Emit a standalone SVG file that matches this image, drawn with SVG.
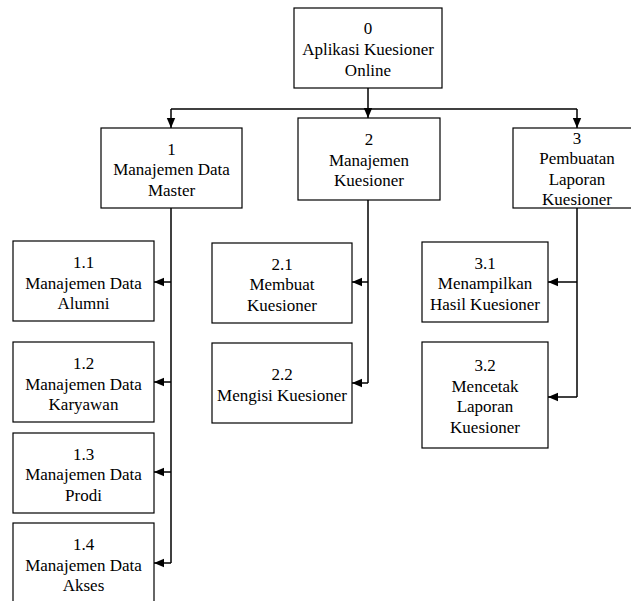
<svg xmlns="http://www.w3.org/2000/svg" width="631" height="601" viewBox="0 0 631 601">
<style>
rect{fill:#fff;stroke:#000;stroke-width:1.2}
text{font-size:17px;fill:#000;text-anchor:middle}
.c{fill:none;stroke:#000;stroke-width:1.5}
</style>
<defs>
<marker id="ah" markerUnits="userSpaceOnUse" markerWidth="10" markerHeight="10" viewBox="0 0 10 10" refX="10" refY="5" orient="auto"><path d="M0,0.8 L10,5 L0,9.2 Z" fill="#000"/></marker>
</defs>
<rect x="0" y="0" width="631" height="601" style="fill:#fff;stroke:none"/>
<g id="connectors">
<path class="c" d="M368,88 V118" marker-end="url(#ah)"/>
<path class="c" d="M171,109 H577"/>
<path class="c" d="M171,109 V128" marker-end="url(#ah)"/>
<path class="c" d="M577,109 V128" marker-end="url(#ah)"/>
<path class="c" d="M171,208 V563"/>
<path class="c" d="M171,282 H154" marker-end="url(#ah)"/>
<path class="c" d="M171,382 H154" marker-end="url(#ah)"/>
<path class="c" d="M171,472 H154" marker-end="url(#ah)"/>
<path class="c" d="M171,563 H154" marker-end="url(#ah)"/>
<path class="c" d="M368,200 V383"/>
<path class="c" d="M368,282 H352" marker-end="url(#ah)"/>
<path class="c" d="M368,383 H352" marker-end="url(#ah)"/>
<path class="c" d="M577,208 V397"/>
<path class="c" d="M577,282 H548" marker-end="url(#ah)"/>
<path class="c" d="M577,397 H548" marker-end="url(#ah)"/>
</g>
<g font-family="Liberation Serif, Times New Roman, serif">
<g id="n0"><rect x="294" y="8" width="148" height="80"/><text x="368" y="34">0</text><text x="368" y="55">Aplikasi Kuesioner</text><text x="368" y="75.5">Online</text></g>
<g id="n1"><rect x="101" y="128" width="141" height="80"/><text x="171.5" y="154.5">1</text><text x="171.5" y="175">Manajemen Data</text><text x="171.5" y="195.5">Master</text></g>
<g id="n2"><rect x="298" y="118" width="142" height="82"/><text x="369" y="145">2</text><text x="369" y="165.5">Manajemen</text><text x="369" y="186">Kuesioner</text></g>
<g id="n3"><rect x="513" y="128" width="128" height="80"/><text x="577" y="143.5">3</text><text x="577" y="164">Pembuatan</text><text x="577" y="184.5">Laporan</text><text x="577" y="205">Kuesioner</text></g>
<g id="n1_1"><rect x="13" y="241" width="141" height="80"/><text x="83.5" y="268">1.1</text><text x="83.5" y="288.5">Manajemen Data</text><text x="83.5" y="309">Alumni</text></g>
<g id="n1_2"><rect x="13" y="342" width="141" height="80"/><text x="83.5" y="369">1.2</text><text x="83.5" y="389.5">Manajemen Data</text><text x="83.5" y="410">Karyawan</text></g>
<g id="n1_3"><rect x="13" y="433" width="141" height="80"/><text x="83.5" y="459.5">1.3</text><text x="83.5" y="480">Manajemen Data</text><text x="83.5" y="500.5">Prodi</text></g>
<g id="n1_4"><rect x="13" y="523" width="141" height="82"/><text x="83.5" y="550">1.4</text><text x="83.5" y="570.5">Manajemen Data</text><text x="83.5" y="591">Akses</text></g>
<g id="n2_1"><rect x="212" y="243" width="140" height="80"/><text x="282" y="269.5">2.1</text><text x="282" y="290">Membuat</text><text x="282" y="310.5">Kuesioner</text></g>
<g id="n2_2"><rect x="212" y="343" width="140" height="80"/><text x="282" y="380">2.2</text><text x="282" y="400.5">Mengisi Kuesioner</text></g>
<g id="n3_1"><rect x="422" y="242" width="126" height="80"/><text x="485" y="268.5">3.1</text><text x="485" y="289">Menampilkan</text><text x="485" y="309.5">Hasil Kuesioner</text></g>
<g id="n3_2"><rect x="422" y="342" width="126" height="106"/><text x="485" y="371">3.2</text><text x="485" y="391.5">Mencetak</text><text x="485" y="412">Laporan</text><text x="485" y="432.5">Kuesioner</text></g>
</g>
</svg>
